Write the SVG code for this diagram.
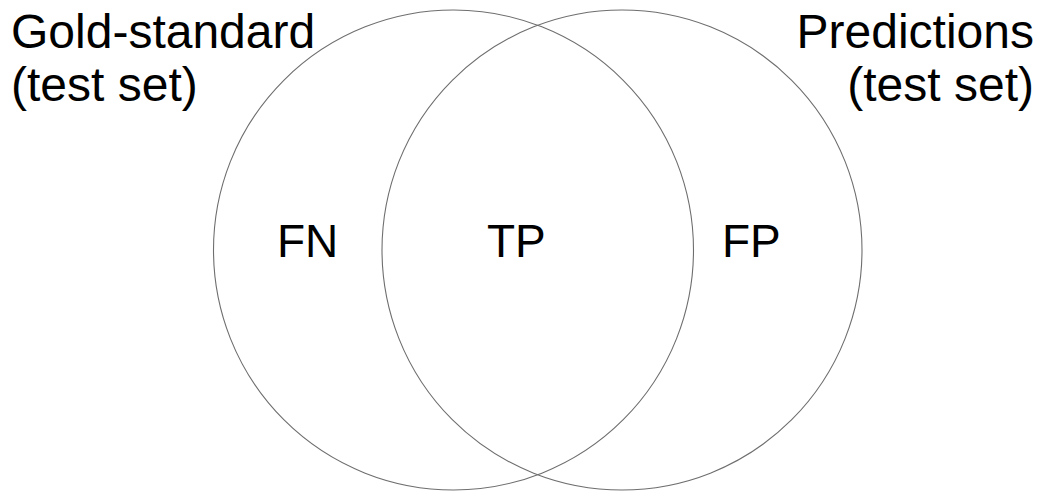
<svg xmlns="http://www.w3.org/2000/svg" width="1039" height="491" viewBox="0 0 1039 491">
<style>
.c{fill:none;stroke:#6e6e6e;stroke-width:1.1}
.t{font-family:"Liberation Sans",Arial,sans-serif;font-size:46px;fill:#000}
.h{font-size:48px}
</style>
<rect width="1039" height="491" fill="#fff"/>
<g id="gold">
<circle class="c" cx="453.5" cy="250" r="240"/>
<text class="t h" x="11" y="48">Gold-standard</text>
<text class="t h" x="11" y="101">(test set)</text>
</g>
<g id="pred">
<circle class="c" cx="622" cy="250" r="240"/>
<text class="t h" x="1034" y="48" text-anchor="end">Predictions</text>
<text class="t h" x="1034" y="101" text-anchor="end">(test set)</text>
</g>
<g id="fn"><text class="t" x="277" y="257">FN</text></g>
<g id="tp"><text class="t" x="487" y="257">TP</text></g>
<g id="fp"><text class="t" x="722" y="257">FP</text></g>
<g id="connectors"/>
</svg>
